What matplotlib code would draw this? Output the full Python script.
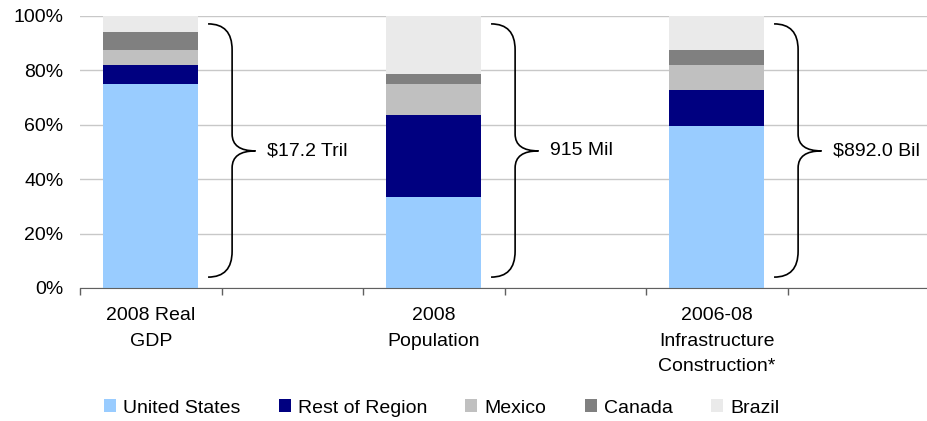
import matplotlib.pyplot as plt
from matplotlib.path import Path
from matplotlib.patches import PathPatch

plt.rcParams['font.family'] = ['Liberation Sans', 'DejaVu Sans']

# shares (%) for each measure
categories = ["2008 Real\nGDP", "2008\nPopulation", "2006-08\nInfrastructure\nConstruction*"]
totals = ["$17.2 Tril", "915 Mil", "$892.0 Bil"]
series_names = ["United States", "Rest of Region", "Mexico", "Canada", "Brazil"]
united_states = [75.0, 33.5, 59.6]
rest_of_region = [7.0, 30.1, 13.2]
mexico = [5.5, 11.4, 9.2]
canada = [6.6, 3.7, 5.5]
brazil = [5.9, 21.3, 12.5]
colors = ["#99CCFF", "#000080", "#C0C0C0", "#808080", "#EAEAEA"]

fig = plt.figure(figsize=(9.27, 4.21), dpi=100)
ax = fig.add_axes([80 / 927, 133 / 421, 849 / 927, 272 / 421])

# bars sit in every other slot, the gaps hold the braces
xpos = [0.5, 2.5, 4.5]
width = 0.67
bottom = [0, 0, 0]
for name, vals, c in zip(series_names, [united_states, rest_of_region, mexico, canada, brazil], colors):
    ax.bar(xpos, vals, width, bottom=bottom, color=c, label=name, zorder=3)
    bottom = [b + v for b, v in zip(bottom, vals)]


def brace(ax, x, lo, hi, mid):
    x0, x1, x2 = x + 0.405, x + 0.575, x + 0.74
    verts = [(x0, hi), (x1, hi), (x1, hi - 9.5),
             (x1, mid + 6.2),
             (x1, mid), (x2, mid),
             (x1, mid), (x1, mid - 6.2),
             (x1, lo + 9.5),
             (x1, lo), (x0, lo)]
    codes = [Path.MOVETO, Path.CURVE3, Path.CURVE3,
             Path.LINETO,
             Path.CURVE3, Path.CURVE3,
             Path.CURVE3, Path.CURVE3,
             Path.LINETO,
             Path.CURVE3, Path.CURVE3]
    ax.add_patch(PathPatch(Path(verts, codes), fill=False, lw=1.2, color="black", zorder=4))


for x, label in zip(xpos, totals):
    brace(ax, x, 4.0, 97.1, 50.4)
    ax.text(x + 0.82, 50.4, label, fontsize=14, va="center", ha="left")

ax.set_xlim(0, 6)
ax.set_ylim(0, 100)
ax.set_yticks(range(0, 101, 20))
ax.set_yticklabels([f"{v}%" for v in range(0, 101, 20)], fontsize=14)
ax.set_xticks(range(0, 6))
ax.set_xticklabels([])
ax.tick_params(axis="y", length=0, pad=12)
ax.tick_params(axis="x", length=5, width=1, color="#606060", direction="out")
ax.grid(axis="y", color="#C8C8C8", lw=1, zorder=0)
for s in ["left", "right", "top"]:
    ax.spines[s].set_visible(False)
ax.spines["bottom"].set_color("#606060")
ax.spines["bottom"].set_zorder(5)

for x, cat in zip(xpos, categories):
    ax.annotate(cat, xy=(x, 0), xycoords=("data", "axes fraction"),
                xytext=(0, -14), textcoords="offset points",
                ha="center", va="top", fontsize=14, linespacing=1.65)

fig.legend(loc="center", bbox_to_anchor=(0.4763, 13 / 421), ncol=5, frameon=False,
           fontsize=14, handlelength=0.62, handleheight=0.62, handletextpad=0.36,
           columnspacing=1.98, borderpad=0)

fig.savefig("out.png", dpi=100)
